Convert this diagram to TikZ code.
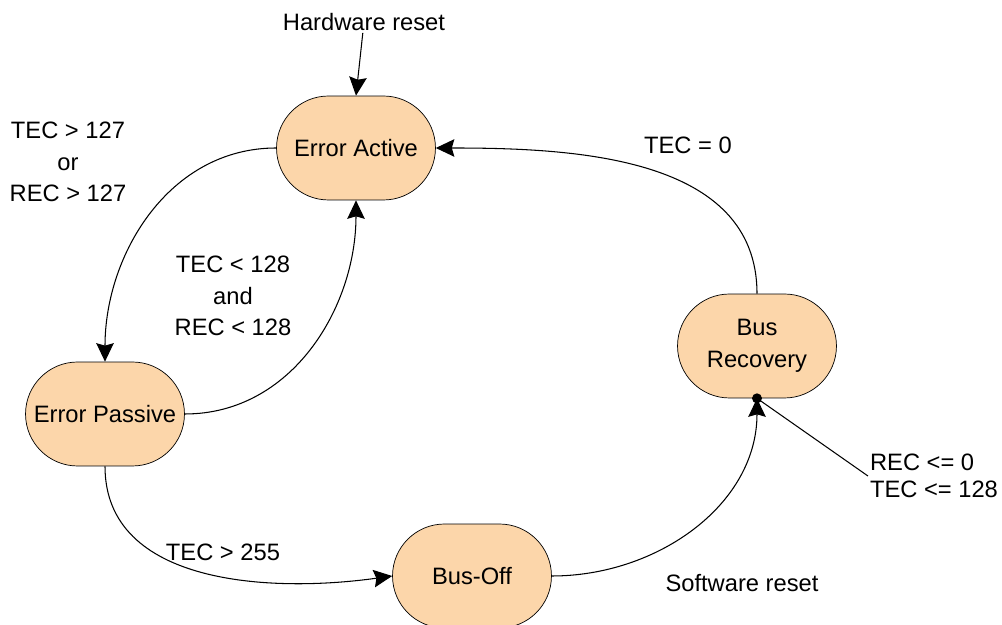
\documentclass[tikz,border=0pt]{standalone}
\usepackage{fontspec}
\setmainfont{Liberation Sans}
\usepackage{xcolor}
\usetikzlibrary{arrows.meta,shapes.misc}
\definecolor{peach}{RGB}{252,214,170}

\begin{document}
\begin{tikzpicture}[
    x=0.02cm, y=0.02cm,
    font=\fontsize{13.5}{18}\selectfont,
    >={Stealth[length=3.7mm,width=3.5mm,inset=0.5mm]},
    state/.style={draw, fill=peach, rounded rectangle, align=center,
                  minimum width=3.32cm, minimum height=2.08cm, inner sep=2pt},
    lab/.style={align=center, inner sep=1pt},
    sig/.style={->, line width=0.6pt},
  ]
  \useasboundingbox (0,0) rectangle (1002,625);

  %% ---- states ---------------------------------------------------------
  \node[state] (EA) at (356,477) {Error Active};
  \node[state] (EP) at (105,211) {Error Passive};
  \node[state] (BR) at (757,279) {Bus\\Recovery};
  \node[state] (BO) at (472, 49) {Bus-Off};

  %% ---- labels ---------------------------------------------------------
  \node[lab] (hw) at (364,603) {Hardware reset};
  \node[lab] (c1) at ( 68,463) {TEC > 127\\or\\REC > 127};
  \node[lab] (c2) at (233,329) {TEC < 128\\and\\REC < 128};
  \node[lab] (c3) at (688,480) {TEC = 0};
  \node[lab] (c4) at (223, 73) {TEC > 255};
  \node[lab] (sw) at (742, 42) {Software reset};
  \node[lab,align=left,font=\fontsize{13.5}{15.2}\selectfont]
    (rc) at (934,149) {REC <= 0\\TEC <= 128};

  %% ---- transitions ----------------------------------------------------
  \draw[sig] (hw) -- (EA.north);
  \draw[sig] (EA.west) to[out=180,in=90] (EP.north);
  \draw[sig] (EP.east) to[out=0,in=-90] (EA.south);
  \draw[sig] (BR.north) to[out=90,in=0] (EA.east);
  \draw[sig] (EP.south) to[out=-90,in=188] (BO.west);
  \draw[sig] (BO.east) to[out=0,in=-90] (BR.south);

  %% ---- annotation -----------------------------------------------------
  \fill (BR.south) circle (5);
  \draw[line width=0.6pt] (BR.south) -- (rc.west);

\end{tikzpicture}
\end{document}
